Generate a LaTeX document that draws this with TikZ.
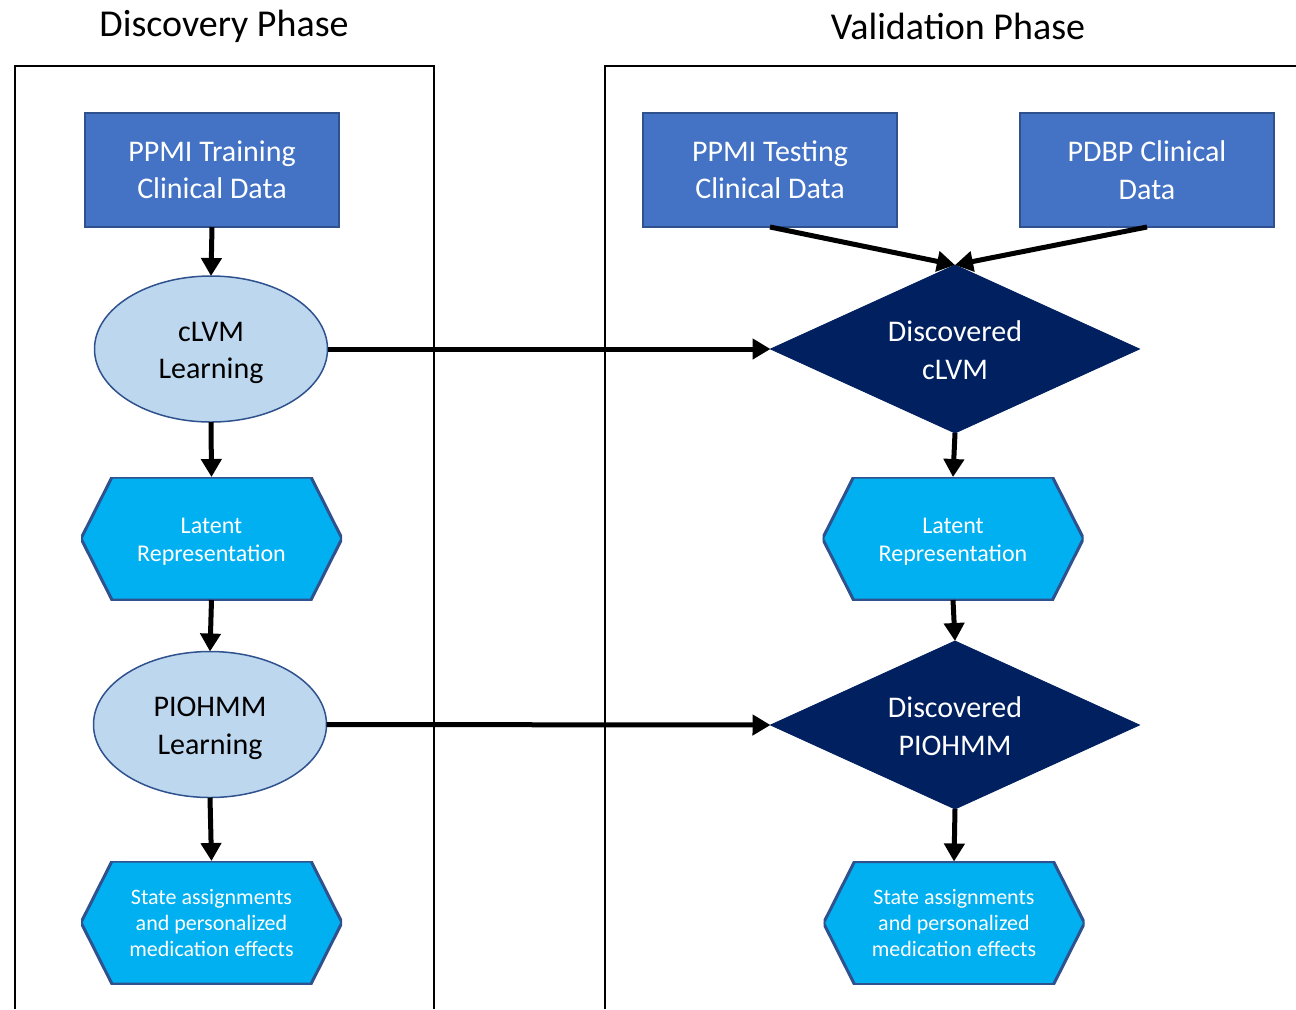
\documentclass[tikz,border=0pt]{standalone}
\usepackage{fontspec}
\setmainfont{Carlito}
\usetikzlibrary{shapes.geometric,arrows.meta}
\definecolor{boxblue}{HTML}{4472C4}
\definecolor{edgeblue}{HTML}{2F528F}
\definecolor{paleblue}{HTML}{BDD7EE}
\definecolor{skyblue}{HTML}{00B0F0}
\definecolor{navyfill}{HTML}{002060}
% lower a line of text without changing its box metrics
\newcommand\droptext[2]{\raisebox{-#1}[\height][\depth]{#2}}
\begin{document}
\begin{tikzpicture}[x=0.5pt,y=-0.5pt,
  every node/.style={inner sep=0pt, outer sep=0pt, align=center},
  mainfont/.style={font=\fontsize{15}{18.7}\selectfont},
  phasetitle/.style={font=\fontsize{19}{23}\selectfont},
  databox/.style={rectangle, fill=boxblue, draw=edgeblue, line width=0.75pt,
    minimum width=127pt, minimum height=57pt, text=white, mainfont},
  learnnode/.style={ellipse, fill=paleblue, draw=edgeblue, line width=0.75pt,
    minimum width=116.5pt, minimum height=73pt, mainfont},
  modelnode/.style={diamond, fill=navyfill, draw=navyfill, aspect=2.2,
    minimum width=184.5pt, minimum height=84pt, text=white, mainfont},
  hexnode/.style={rectangle, minimum width=130.5pt, minimum height=61.5pt, text=white,
    path picture={
      \path[fill=skyblue, draw=edgeblue, line width=1.5pt]
        (path picture bounding box.west)
        -- ([xshift=15.5pt]path picture bounding box.north west)
        -- ([xshift=-15.5pt]path picture bounding box.north east)
        -- (path picture bounding box.east)
        -- ([xshift=-15.5pt]path picture bounding box.south east)
        -- ([xshift=15.5pt]path picture bounding box.south west)
        -- cycle;}},
  latfont/.style={font=\fontsize{12}{14}\selectfont},
  statefont/.style={font=\fontsize{11}{13}\selectfont},
  flow/.style={line width=2.5pt, -{Triangle[width=10pt,length=9pt]}},
  panel/.style={line width=1pt}
]
\useasboundingbox (0,0) rectangle (1296,1009);

% panel frames
\draw[panel] (15,1009) -- (15,66) -- (434,66) -- (434,1009);
\draw[panel] (605,1009) -- (605,66) -- (1296,66);

% titles
\node[phasetitle] (t1) at (224,26.5) {Discovery Phase};
\node[phasetitle] (t2) at (958,26) {Validation Phase};

% discovery column
\node[databox] (train) at (212,170) {PPMI Training\\Clinical Data};
\node[learnnode] (clvm) at (211,349) {\droptext{2pt}{cLVM}\\\droptext{2pt}{Learning}};
\node[hexnode, latfont] (lat1) at (211.5,538.5) {\droptext{1.5pt}{Latent}\\\droptext{1.5pt}{Representation}};
\node[learnnode] (piohmm) at (210,724.5) {\droptext{2pt}{PIOHMM}\\\droptext{2pt}{Learning}};
\node[hexnode, statefont] (st1) at (211.5,922.5) {State assignments\\and personalized\\medication effects};

% validation column
\node[databox] (test) at (770,170) {PPMI Testing\\Clinical Data};
\node[databox] (pdbp) at (1147,170) {PDBP Clinical\\Data};
\node[modelnode] (dclvm) at (955,349) {\droptext{0.5pt}{Discovered}\\\droptext{0.5pt}{cLVM}};
\node[hexnode, latfont] (lat2) at (953,538.5) {\droptext{1.5pt}{Latent}\\\droptext{1.5pt}{Representation}};
\node[modelnode] (dpio) at (955,725) {\droptext{0.5pt}{Discovered}\\\droptext{0.5pt}{PIOHMM}};
\node[hexnode, statefont] (st2) at (954,923) {State assignments\\and personalized\\medication effects};

% connectors
\draw[flow] (train.south) -- (clvm.north);
\draw[flow] (clvm.south) -- (lat1.north);
\draw[flow] (lat1.south) -- (piohmm.north);
\draw[flow] (piohmm.south) -- (st1.north);

\draw[flow] (test.south) -- (dclvm.north);
\draw[flow] (pdbp.south) -- (dclvm.north);
\draw[flow] (dclvm.south) -- (lat2.north);
\draw[flow] (lat2.south) -- (dpio.north);
\draw[flow] (dpio.south) -- (st2.north);

\draw[flow] (clvm.east) -- (dclvm.west);
\draw[flow] (piohmm.east) -- (dpio.west);
\end{tikzpicture}
\end{document}
